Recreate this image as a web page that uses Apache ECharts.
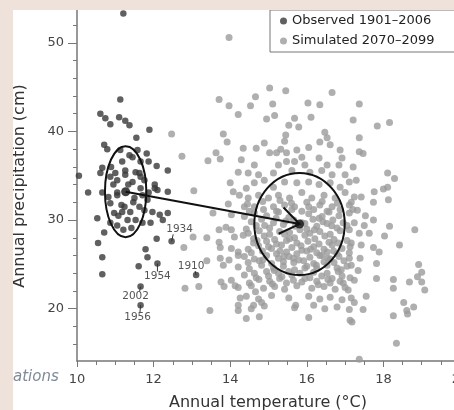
<!DOCTYPE html>
<html>
<head>
<meta charset="utf-8">
<script src="https://cdn.jsdelivr.net/npm/echarts@6/dist/echarts.min.js"></script>
<style>
  html, body { margin: 0; padding: 0; background: #eee2db; }
  #chart { position: absolute; left: 13px; top: 10px; width: 441px; height: 400px; background: #fff; }
</style>
</head>
<body>
<div id="chart"></div>
<script>
// axis tick labels
const xTicks = [10, 12, 14, 16, 18, 20];
const yTicks = [20, 30, 40, 50];
const seriesNames = ['Observed 1901–2006', 'Simulated 2070–2099'];

// [temperature °C, precipitation cm]
const observed = [
  [11.21,53.3],[11.13,43.6],[10.61,42.0],[10.74,41.5],[10.87,40.8],[11.1,41.6],[11.26,41.2],[11.37,40.7],
  [11.89,40.2],[11.55,39.3],[10.71,38.5],[10.79,38.0],[11.82,37.5],[11.37,37.3],[11.87,36.6],[12.08,36.1],
  [12.37,35.6],[10.66,35.9],[11.45,37.1],[10.89,36.0],[11.0,35.3],[11.26,35.6],[11.53,35.4],[11.66,34.9],
  [11.45,34.3],[10.95,34.0],[10.05,35.0],[10.29,33.1],[10.66,33.1],[11.05,33.1],[11.66,33.6],[11.87,33.1],
  [10.61,35.3],[10.87,34.9],[11.05,34.5],[11.26,35.1],[11.63,35.3],[11.76,34.5],[12.03,34.0],[12.1,33.4],
  [12.37,33.2],[11.05,32.8],[11.5,32.5],[11.71,32.8],[11.84,32.3],[10.87,31.9],[11.24,31.5],[11.18,30.9],
  [11.39,30.9],[11.63,31.5],[10.97,30.8],[11.32,30.0],[11.53,30.0],[10.87,29.7],[11.05,29.4],[11.71,29.7],
  [11.97,30.9],[12.16,30.6],[12.37,30.8],[10.53,30.2],[11.92,29.7],[10.71,28.6],[10.55,27.4],[12.08,27.9],
  [12.47,27.6],[11.79,26.7],[11.84,25.8],[10.66,25.8],[11.61,24.8],[12.1,25.1],[10.66,23.9],[11.66,22.5],
  [11.66,20.4],[13.11,23.8],[12.24,30.0],[12.03,33.6],[11.13,37.9],[11.58,37.9],[11.18,36.6],[11.66,36.6],
  [11.34,34.0],[11.16,31.7],[11.47,32.0],[11.08,30.5],[11.42,29.1],[11.21,28.9],[10.82,32.6],[11.76,31.1]
];

const simulated = [
  [13.97,50.6],[12.47,39.7],[12.74,37.2],[13.71,43.6],[13.97,42.9],[14.21,41.9],[13.82,39.7],[13.92,38.8],
  [13.63,37.6],[13.42,36.7],[13.74,36.9],[14.21,35.4],[14.0,34.2],[13.05,33.3],[14.08,33.2],[13.95,31.8],
  [15.03,44.9],[15.45,44.6],[16.66,44.4],[14.66,43.9],[14.53,42.9],[15.11,43.1],[16.03,43.2],[16.34,43.0],
  [14.95,41.4],[15.16,41.8],[15.68,41.5],[16.11,41.6],[15.53,40.7],[15.79,40.5],[16.47,39.9],[15.45,39.6],
  [15.42,38.9],[16.53,39.3],[16.34,38.8],[14.89,38.7],[14.68,38.1],[14.34,38.1],[15.32,38.0],[16.05,38.2],
  [16.61,38.5],[15.03,37.6],[15.21,37.6],[15.74,37.9],[15.87,37.1],[16.87,37.9],[14.63,36.2],[15.47,37.6],
  [15.47,36.6],[15.68,36.6],[15.95,36.2],[16.32,37.0],[16.53,36.2],[16.84,36.2],[16.92,37.0],[14.47,35.3],
  [14.74,35.1],[15.13,35.3],[15.26,36.2],[15.61,35.6],[16.08,35.4],[16.39,35.6],[16.66,35.1],[17.0,35.1],
  [14.42,33.6],[14.63,34.2],[14.89,34.5],[15.13,33.7],[15.42,34.3],[15.74,34.2],[16.05,34.3],[16.32,34.0],
  [16.61,34.2],[16.87,33.7],[17.11,34.3],[14.47,32.5],[14.74,32.8],[15.0,32.5],[15.26,32.8],[15.55,32.5],
  [15.87,33.1],[16.13,32.5],[16.45,32.8],[16.74,32.5],[17.0,33.1],[14.37,31.5],[14.63,31.5],[15.13,31.5],
  [15.42,31.7],[15.68,31.5],[16.05,31.5],[16.34,31.7],[16.66,31.5],[17.11,31.7],[17.37,43.1],[17.21,41.3],
  [17.84,40.6],[18.16,41.0],[17.37,39.3],[17.37,37.7],[17.47,37.5],[17.21,36.0],[17.29,34.5],[18.11,35.3],
  [18.29,34.7],[18.0,33.5],[18.11,33.7],[17.76,33.2],[17.24,32.6],[17.42,32.6],[17.16,32.0],[17.74,32.0],
  [18.13,32.3],[17.53,30.5],[17.24,29.7],[18.16,29.3],[18.82,28.9],[17.74,30.0],[18.03,28.2],[18.42,27.2],
  [17.11,28.9],[17.37,28.5],[17.63,28.5],[17.16,27.4],[17.42,27.2],[17.74,26.9],[17.89,26.4],[17.11,26.3],
  [17.82,25.1],[18.92,25.0],[19.0,24.1],[17.16,24.9],[17.34,24.3],[17.24,23.2],[17.82,23.4],[18.26,23.3],
  [18.26,22.3],[18.68,23.0],[18.89,23.6],[19.0,23.0],[19.08,22.1],[17.08,22.1],[17.16,21.2],[17.55,21.4],
  [17.24,20.7],[17.47,19.9],[18.53,20.7],[18.61,19.8],[18.63,19.4],[18.79,20.2],[18.26,19.2],[17.18,18.5],
  [18.34,16.1],[17.37,14.3],[13.03,28.1],[13.39,28.0],[12.79,26.9],[13.71,27.5],[13.74,26.9],[13.39,25.4],
  [12.82,22.3],[13.18,22.5],[13.47,19.8],[13.74,25.7],[13.82,24.9],[13.76,23.0],[13.84,22.5],[14.03,23.2],
  [14.21,22.4],[14.21,19.8],[14.03,30.6],[13.55,30.8],[14.03,28.9],[14.11,28.1],[14.03,26.8],[13.97,25.5],
  [14.21,24.7],[14.21,26.4],[13.71,28.9],[13.89,29.2],[14.21,26.0],[14.13,22.6],[14.26,21.2],[14.21,20.4],
  [14.42,18.9],[14.61,20.4],[14.82,20.7],[14.66,21.9],
  [14.37,30.4],[14.63,30.8],[14.95,30.5],[15.26,30.9],[15.53,30.3],[16.05,30.7],[16.32,30.2],[16.58,30.9],[16.84,30.5],[17.11,30.8],
  [14.42,29.0],[14.68,29.4],[15.03,29.1],[15.39,29.5],[16.0,29.0],[16.26,29.3],[16.53,29.6],[16.79,29.1],[17.05,29.4],
  [14.34,28.3],[14.61,27.9],[14.89,28.2],[15.16,27.8],[15.42,28.4],[15.68,28.0],[15.95,28.3],[16.21,27.9],[16.47,28.2],[16.71,27.8],
  [14.47,26.7],[14.74,27.1],[15.08,26.8],[15.34,27.2],[15.61,26.9],[15.87,26.6],[16.18,27.0],[16.45,26.7],[16.66,27.2],[16.92,26.8],[17.13,27.0],
  [14.37,25.9],[14.63,25.6],[14.95,26.0],[15.26,25.7],[15.53,25.9],[15.79,25.5],[16.08,25.8],[16.34,26.0],[16.61,25.6],[16.84,25.9],[17.11,25.7],
  [14.5,24.5],[14.82,24.9],[15.13,24.6],[15.39,24.8],[15.68,24.4],[16.0,24.8],[16.26,24.5],[16.53,24.9],[16.79,24.6],[17.05,24.8],
  [14.37,23.8],[14.68,23.5],[15.0,23.7],[15.29,23.4],[15.61,23.8],[16.08,23.5],[16.39,23.7],[16.66,23.4],[16.92,23.7],[17.13,23.5],
  [14.55,22.6],[14.87,22.3],[15.16,22.5],[15.42,22.2],[15.74,22.6],[16.13,22.3],[16.45,22.5],[16.74,22.2],[17.0,22.4],
  [14.42,21.4],[14.74,21.1],[15.08,21.5],[15.53,21.2],[16.05,21.4],[16.34,21.1],[16.61,21.3],[16.92,21.0],
  [14.55,20.0],[14.89,20.3],[15.68,20.1],[16.18,20.4],[16.47,20.0],[16.79,20.2],[17.11,19.9],
  [14.76,19.1],[16.05,19.0],[17.13,18.7],[15.71,20.4],
  [14.55,29.8],[14.82,30.1],[15.13,29.7],[15.66,30.0],[15.87,29.7],[16.16,30.1],[16.42,29.8],[16.68,30.0],[16.95,29.7],
  [14.47,28.5],[14.76,28.8],[15.03,28.4],[15.29,28.7],[15.55,28.6],[15.82,28.9],[16.08,28.5],[16.34,28.7],[16.61,28.4],[16.87,28.8],
  [14.61,27.4],[14.95,27.6],[15.21,27.3],[15.47,27.7],[15.74,27.4],[16.03,27.6],[16.32,27.3],[16.58,27.5],[16.82,27.4],[17.05,27.7],
  [14.55,26.3],[14.84,26.5],[15.21,26.2],[15.47,26.4],[15.74,26.2],[16.0,26.5],[16.26,26.3],[16.53,26.4],[16.79,26.2],
  [14.47,25.2],[14.76,25.4],[15.08,25.1],[15.39,25.3],[15.66,25.2],[15.92,25.4],[16.18,25.1],[16.45,25.3],[16.71,25.2],[16.97,25.4],
  [14.63,24.0],[14.95,24.2],[15.26,24.0],[15.53,24.2],[15.82,24.0],[16.18,24.1],[16.53,24.0],[16.82,24.2],
  [14.5,22.9],[15.03,23.1],[15.47,22.9],[15.87,23.0],[16.26,23.1],[16.61,22.9],[16.87,23.1],
  [14.5,31.0],[14.87,31.2],[15.21,31.0],[15.61,31.2],[15.87,31.0],[16.18,31.2],[16.53,31.0],[16.87,31.2],
  [17.32,31.1],[17.5,29.4],[17.39,25.7],[14.29,36.8],[14.24,32.8],
  [14.9,29.4],[15.2,30.2],[15.45,29.9],[15.7,29.3],[15.95,29.6],[16.2,28.9],[16.4,30.4],[16.65,29.35],
  [14.7,27.7],[15.0,27.0],[15.3,26.5],[15.55,27.9],[15.85,27.1],[16.1,26.7],[16.4,26.0],[16.7,26.5],
  [14.85,25.5],[15.15,24.3],[15.4,25.9],[15.65,25.7],[15.95,24.6],[16.25,24.9],[16.55,25.7],[16.9,24.4],
  [14.75,23.3],[15.1,22.8],[15.35,23.6],[15.65,23.2],[15.95,23.4],[16.3,22.7],[16.55,23.3],[16.95,22.9],
  [14.45,31.8],[14.85,32.1],[15.3,32.2],[15.6,31.9],[16.0,32.0],[16.4,32.1],[16.8,31.9],[17.2,31.2]
];

// group means and ellipse half-widths (temperature, precipitation)
const obsMean = [11.27, 33.2];
const simMean = [15.81, 29.55];
const obsSpread = [0.54, 5.14];
const simSpread = [1.18, 5.76];

// labelled observed years
const yearLabels = ['1934', '1910', '1954', '2002', '1956'];
const yearPoints = [[12.47, 27.6], [13.11, 23.8], [12.1, 25.1], [11.66, 22.5], [11.66, 20.4]];

const FONT = '"DejaVu Sans", "Liberation Sans", sans-serif';
const labelOffset = { '1934': [8, -12], '1910': [-5, -9], '1954': [0, 13], '2002': [-5, 10], '1956': [-3, 12] };

const xMinor = [];
for (let v = 10; v <= 20; v += 0.5) xMinor.push(v);
const yMinor = [];
for (let v = 16; v <= 52; v += 2) yMinor.push(v);

function renderEllipse(params, api) {
  const c = api.coord([api.value(0), api.value(1)]);
  const s = api.size([api.value(2), api.value(3)]);
  return {
    type: 'ellipse',
    shape: { cx: c[0], cy: c[1], rx: s[0], ry: s[1] },
    style: { fill: 'none', stroke: '#111', lineWidth: 2 }
  };
}

function renderArrow(params, api) {
  const a = api.coord([api.value(0), api.value(1)]);
  const b = api.coord([api.value(2), api.value(3)]);
  const ang = Math.atan2(b[1] - a[1], b[0] - a[0]);
  const len = 23, w = 0.62;
  const p1 = [b[0] - len * Math.cos(ang - w), b[1] - len * Math.sin(ang - w)];
  const p2 = [b[0] - len * Math.cos(ang + w), b[1] - len * Math.sin(ang + w)];
  return {
    type: 'group',
    children: [
      { type: 'line', shape: { x1: a[0], y1: a[1], x2: b[0], y2: b[1] }, style: { stroke: '#111', lineWidth: 2 } },
      { type: 'polyline', shape: { points: [p1, b, p2] }, style: { stroke: '#111', lineWidth: 2, fill: null } }
    ]
  };
}

function renderYear(params, api) {
  const p = api.coord([api.value(0), api.value(1)]);
  const name = yearLabels[params.dataIndex];
  const off = labelOffset[name];
  const tx = p[0] + off[0], ty = p[1] + off[1];
  return {
    type: 'group',
    children: [
      { type: 'line', shape: { x1: p[0], y1: p[1], x2: p[0] + off[0] * 0.2, y2: ty - Math.sign(off[1]) * 5 },
        style: { stroke: '#333', lineWidth: 1 } },
      { type: 'text', x: tx, y: ty,
        style: { text: name, font: '10.5px ' + FONT, fill: '#555', align: 'center', verticalAlign: 'middle' } }
    ]
  };
}

const chart = echarts.init(document.getElementById('chart'));
chart.setOption({
  animation: false,
  grid: { left: 64, top: 0, right: -6, bottom: 49, containLabel: false, outerBoundsMode: 'none' },
  legend: {
    data: seriesNames,
    orient: 'vertical',
    left: 257, top: 0,
    padding: [4, 30, 4, 10],
    itemWidth: 7, itemHeight: 7, itemGap: 6,
    icon: 'circle',
    backgroundColor: '#fff',
    borderColor: '#777', borderWidth: 1, borderRadius: 0,
    textStyle: { fontFamily: FONT, fontSize: 13, color: '#222', lineHeight: 14 }
  },
  xAxis: [
    {
      type: 'value', min: 10, max: 20,
      axisLine: { show: true, onZero: false, lineStyle: { color: '#777', width: 1.5 } },
      axisTick: { show: true, customValues: xMinor, length: 4, lineStyle: { color: '#777' } },
      axisLabel: { customValues: xTicks, margin: 12, fontFamily: FONT, fontSize: 13, color: '#444' },
      splitLine: { show: false }
    },
    {
      type: 'value', min: 10, max: 20, position: 'bottom',
      axisLine: { show: false },
      axisTick: { show: true, customValues: xTicks, length: 6, lineStyle: { color: '#777' } },
      axisLabel: { show: false },
      splitLine: { show: false }
    }
  ],
  yAxis: [
    {
      type: 'value', min: 14.1, max: 53.7,
      axisLine: { show: true, onZero: false, lineStyle: { color: '#777', width: 1.5 } },
      axisTick: { show: true, customValues: yMinor, length: 4, lineStyle: { color: '#777' } },
      axisLabel: { customValues: yTicks, margin: 13, fontFamily: FONT, fontSize: 13, color: '#444' },
      splitLine: { show: false }
    },
    {
      type: 'value', min: 14.1, max: 53.7, position: 'left',
      axisLine: { show: false },
      axisTick: { show: true, customValues: yTicks, length: 9, lineStyle: { color: '#777' } },
      axisLabel: { show: false },
      splitLine: { show: false }
    }
  ],
  series: [
    {
      name: seriesNames[1], type: 'scatter', data: simulated, symbolSize: 7,
      itemStyle: { color: '#9b9b9b' }, z: 2
    },
    {
      name: seriesNames[0], type: 'scatter', data: observed, symbolSize: 6.5,
      itemStyle: { color: '#383838' }, z: 3
    },
    {
      type: 'custom', renderItem: renderEllipse, z: 4,
      data: [obsMean.concat(obsSpread), simMean.concat(simSpread)]
    },
    {
      type: 'custom', renderItem: renderArrow, z: 5,
      data: [obsMean.concat(simMean)]
    },
    {
      type: 'scatter', data: [obsMean, simMean], symbolSize: 9,
      itemStyle: { color: '#111' }, z: 6
    },
    {
      type: 'custom', renderItem: renderYear, z: 6,
      data: yearPoints
    }
  ],
  graphic: [
    { type: 'text', x: 7, y: 176, rotation: Math.PI / 2,
      style: { text: 'Annual precipitation (cm)', font: '16px ' + FONT, fill: '#333', align: 'center', verticalAlign: 'middle' } },
    { type: 'text', x: 255, y: 393,
      style: { text: 'Annual temperature (°C)', font: '16px ' + FONT, fill: '#333', align: 'center', verticalAlign: 'middle' } },
    { type: 'text', x: 0, y: 367,
      style: { text: 'ations', font: 'italic 15px ' + FONT, fill: '#7f8b98', align: 'left', verticalAlign: 'middle' } }
  ]
});
</script>
</body>
</html>
